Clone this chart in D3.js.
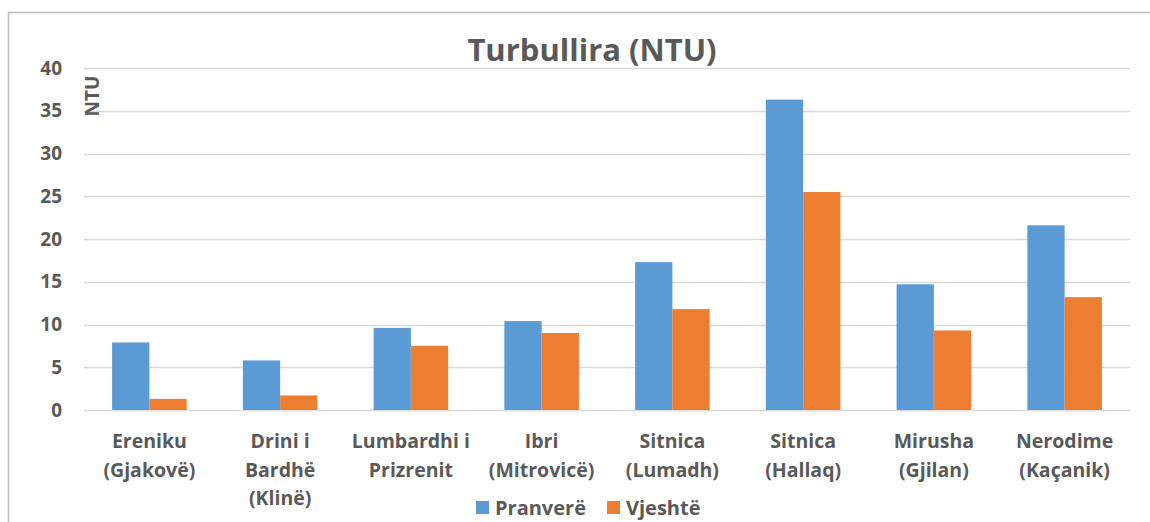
<!DOCTYPE html>
<html>
<head>
<meta charset="utf-8">
<script src="https://cdn.jsdelivr.net/npm/d3@7"></script>
<style>
  body { margin: 0; background: #fff; }
  text { font-family: "Open Sans", Lato, sans-serif; font-weight: bold; fill: #595959; }
</style>
</head>
<body>
<div id="chart"></div>
<script>
// Data
const categories = [
    ["Ereniku", "(Gjakovë)"],
    ["Drini i", "Bardhë", "(Klinë)"],
    ["Lumbardhi i", "Prizrenit"],
    ["Ibri", "(Mitrovicë)"],
    ["Sitnica", "(Lumadh)"],
    ["Sitnica", "(Hallaq)"],
    ["Mirusha", "(Gjilan)"],
    ["Nerodime", "(Kaçanik)"]
];
const seriesNames = ["Pranverë", "Vjeshtë"];
const pranvere = [7.9, 5.8, 9.6, 10.4, 17.3, 36.3, 14.7, 21.6];
const vjeshte = [1.3, 1.7, 7.5, 9.0, 11.8, 25.5, 9.3, 13.2];
const yTicks = [0, 5, 10, 15, 20, 25, 30, 35, 40];
const colors = ["#5b9bd5", "#ed7d31"];

const W = 1150, H = 522;
const margin = { top: 68, right: 20, bottom: 112, left: 84 };
const width = 1130 - margin.left;
const height = 410 - margin.top;

const svg = d3.select("#chart").append("svg")
    .attr("width", W)
    .attr("height", H);

// chart frame (top + left edges visible)
svg.append("path")
    .attr("d", `M8.5,${H} L8.5,12.5 L${W},12.5`)
    .attr("fill", "none")
    .attr("stroke", "#bfbfbf")
    .attr("stroke-width", 1.5);

const g = svg.append("g")
    .attr("transform", `translate(${margin.left},${margin.top})`);

const x0 = d3.scaleBand()
    .domain(d3.range(categories.length))
    .range([0, width])
    .paddingInner(0.43)
    .paddingOuter(0.215);

const x1 = d3.scaleBand()
    .domain([0, 1])
    .range([0, x0.bandwidth()]);

const y = d3.scaleLinear()
    .domain([0, 40])
    .range([height, 0]);

// gridlines
g.selectAll(".grid")
    .data(yTicks)
    .enter().append("line")
    .attr("x1", 0)
    .attr("x2", width)
    .attr("y1", d => Math.round(y(d)) + 0.5)
    .attr("y2", d => Math.round(y(d)) + 0.5)
    .attr("stroke", "#d9d9d9")
    .attr("stroke-width", 1.5);

// y axis labels
const yAxis = g.append("g")
    .call(d3.axisLeft(y).tickValues(yTicks).tickSize(0).tickPadding(22));
yAxis.select(".domain").remove();
yAxis.selectAll("text")
    .style("font-size", "19px")
    .style("font-family", "'Open Sans', sans-serif")
    .attr("fill", "#595959");

// bars
const data = categories.map((c, i) => [pranvere[i], vjeshte[i]]);
const groups = g.selectAll(".group")
    .data(data)
    .enter().append("g")
    .attr("transform", (d, i) => `translate(${x0(i)},0)`);

groups.selectAll("rect")
    .data(d => d.map((v, j) => ({ v, j })))
    .enter().append("rect")
    .attr("x", d => x1(d.j))
    .attr("y", d => y(d.v))
    .attr("width", x1.bandwidth())
    .attr("height", d => height - y(d.v))
    .attr("fill", d => colors[d.j]);

// category labels
const catLabels = g.selectAll(".cat")
    .data(categories)
    .enter().append("text")
    .attr("text-anchor", "middle")
    .attr("x", (d, i) => x0(i) + x0.bandwidth() / 2)
    .attr("y", height + 38)
    .style("font-size", "19.5px");

catLabels.selectAll("tspan")
    .data(d => d)
    .enter().append("tspan")
    .attr("x", function() { return this.parentNode.getAttribute("x"); })
    .attr("dy", (d, i) => i === 0 ? 0 : 28.5)
    .text(d => d);

// title
svg.append("text")
    .attr("x", 592)
    .attr("y", 61)
    .attr("text-anchor", "middle")
    .style("font-size", "31px")
    .text("Turbullira (NTU)");

// y axis title
svg.append("text")
    .attr("transform", "translate(99,96) rotate(-90)")
    .attr("text-anchor", "middle")
    .style("font-size", "19px")
    .text("NTU");

// legend
const legendPos = [476, 607];
const legend = svg.selectAll(".legend")
    .data(seriesNames)
    .enter().append("g")
    .attr("transform", (d, i) => `translate(${legendPos[i]},501)`);

legend.append("rect")
    .attr("width", 13)
    .attr("height", 13)
    .attr("fill", (d, i) => colors[i]);

legend.append("text")
    .attr("x", 19)
    .attr("y", 14)
    .style("font-size", "20px")
    .text(d => d);
</script>
</body>
</html>
